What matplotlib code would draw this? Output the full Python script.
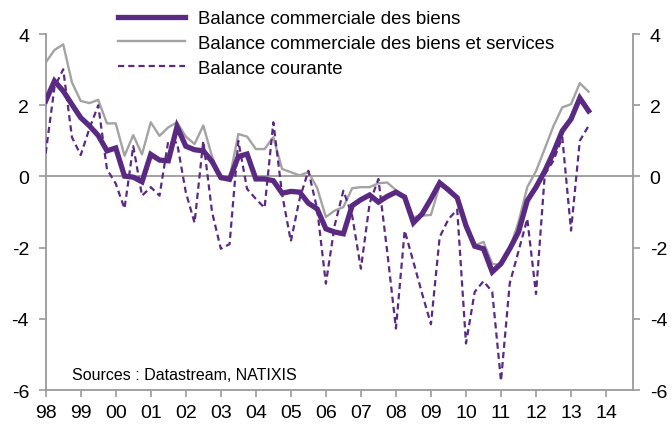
import numpy as np
import matplotlib
matplotlib.use("Agg")
import matplotlib.pyplot as plt

plt.rcParams["font.family"] = ["Liberation Sans", "DejaVu Sans"]
plt.rcParams["axes.unicode_minus"] = False

# quarterly data, 1998Q1 .. 2013Q3
quarters = np.arange(1998.0, 2013.51, 0.25)

goods = [2.12, 2.68, 2.40, 2.02, 1.65, 1.42, 1.15, 0.72, 0.80, 0.01,
         -0.02, -0.15, 0.62, 0.46, 0.44, 1.40, 0.85, 0.75, 0.72, 0.42,
         -0.03, -0.08, 0.56, 0.63, -0.07, -0.07, -0.12, -0.47, -0.42, -0.44,
         -0.75, -0.91, -1.47, -1.56, -1.61, -0.82, -0.65, -0.52, -0.72, -0.56,
         -0.44, -0.58, -1.30, -1.05, -0.63, -0.18, -0.38, -0.60, -1.38, -1.96,
         -2.03, -2.68, -2.45, -2.03, -1.56, -0.68, -0.30, 0.15, 0.68, 1.28,
         1.61, 2.20, 1.84]

goods_services = [3.20, 3.55, 3.71, 2.64, 2.12, 2.06, 2.15, 1.49, 1.49, 0.58,
                  1.16, 0.62, 1.52, 1.14, 1.38, 1.52, 1.12, 0.91, 1.43, 0.56,
                  -0.08, -0.05, 1.19, 1.12, 0.77, 0.77, 1.10, 0.21, 0.12, 0.03,
                  0.12, -0.32, -1.14, -0.96, -0.86, -0.33, -0.30, -0.30, -0.19, -0.17,
                  -0.38, -0.58, -1.14, -1.10, -1.08, -0.24, -0.32, -0.58, -1.47, -1.94,
                  -1.84, -2.45, -2.50, -2.03, -1.28, -0.30, 0.15, 0.78, 1.42, 1.94,
                  2.03, 2.62, 2.38]

current = [0.65, 2.50, 3.01, 1.10, 0.60, 1.35, 2.00, 0.20, -0.20, -0.90,
           0.85, -0.54, -0.30, -0.54, 1.00, 0.95, -0.44, -1.30, 1.00, -1.00,
           -2.03, -1.90, 1.00, -0.35, -0.63, -0.88, 1.52, -0.50, -1.82, -0.63,
           0.16, -0.91, -3.01, -1.38, -0.40, -1.10, -2.59, -0.75, -0.07, -2.10,
           -4.27, -1.52, -2.40, -3.30, -4.15, -1.70, -1.20, -0.93, -4.69, -3.24,
           -2.94, -3.24, -5.74, -3.00, -2.10, -1.19, -3.30, 0.05, 0.45, 1.10,
           -1.52, 1.00, 1.42]

years = list(range(1998, 2015))
year_labels = [f"{y % 100:02d}" for y in years]

PURPLE = "#5a2a82"
GREY = "#a3a3a3"
AXIS = "#9a9a9a"

fig = plt.figure(figsize=(6.72, 4.27), dpi=100)
ax = fig.add_axes([0.068, 0.084, 0.874, 0.834])

ax.axhline(0, color=AXIS, lw=1.3, zorder=1)

ax.plot(quarters, goods, color=PURPLE, lw=3.8, solid_joinstyle="miter",
        label="Balance commerciale des biens", zorder=3)
ax.plot(quarters, goods_services, color=GREY, lw=1.7,
        label="Balance commerciale des biens et services", zorder=2)
ax.plot(quarters, current, color=PURPLE, lw=1.6, dashes=(2.8, 1.8),
        label="Balance courante", zorder=4)

ax.set_xlim(1998, 2014.77)
ax.set_ylim(-6, 4)
ax.set_xticks(years)
ax.set_xticklabels(year_labels)
ax.set_yticks([-6, -4, -2, 0, 2, 4])

for side in ("left", "right", "bottom"):
    ax.spines[side].set_color(AXIS)
    ax.spines[side].set_linewidth(1.3)
ax.spines["top"].set_visible(False)

ax.tick_params(axis="both", direction="out", length=5, width=1.2,
               color=AXIS, labelsize=14, labelcolor="black")
ax.tick_params(axis="y", left=True, right=True, labelleft=True,
               labelright=True, pad=7)
ax.tick_params(axis="x", pad=5)

ax.text(0.045, 0.045, "Sources : Datastream, NATIXIS", transform=ax.transAxes,
        fontsize=11.5, ha="left", va="center")

leg = ax.legend(loc="upper left", bbox_to_anchor=(118 / 672, 1 - 11 / 427),
                bbox_transform=fig.transFigure, frameon=False, fontsize=13.4,
                handlelength=3.6, handletextpad=0.7, labelspacing=0.42,
                borderpad=0, borderaxespad=0)

fig.savefig("out.png", dpi=100)
